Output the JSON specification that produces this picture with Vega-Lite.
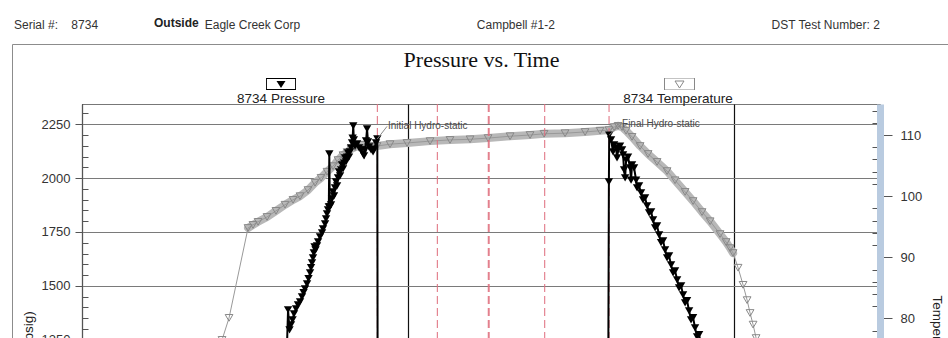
{
  "$schema": "https://vega.github.io/schema/vega-lite/v6.json",
  "width": 798,
  "height": 505,
  "autosize": {"type": "none"},
  "padding": {"left": 82, "top": 104, "right": 68, "bottom": 40},
  "title": {
    "text": "Serial #:\u00a0\u00a0\u00a0\u00a08734\u00a0\u00a0\u00a0\u00a0\u00a0\u00a0\u00a0\u00a0\u00a0\u00a0\u00a0\u00a0\u00a0\u00a0\u00a0\u00a0\u00a0\u00a0\u00a0\u00a0\u00a0\u00a0\u00a0\u00a0\u00a0\u00a0\u00a0\u00a0\u00a0\u00a0\u00a0\u00a0Eagle Creek Corp\u00a0\u00a0\u00a0\u00a0\u00a0\u00a0\u00a0\u00a0\u00a0\u00a0\u00a0\u00a0\u00a0\u00a0\u00a0\u00a0\u00a0\u00a0\u00a0\u00a0\u00a0\u00a0\u00a0\u00a0\u00a0\u00a0\u00a0\u00a0\u00a0\u00a0\u00a0\u00a0\u00a0\u00a0\u00a0\u00a0\u00a0\u00a0\u00a0\u00a0\u00a0\u00a0\u00a0\u00a0\u00a0\u00a0\u00a0\u00a0\u00a0\u00a0\u00a0\u00a0\u00a0Campbell #1-2\u00a0\u00a0\u00a0\u00a0\u00a0\u00a0\u00a0\u00a0\u00a0\u00a0\u00a0\u00a0\u00a0\u00a0\u00a0\u00a0\u00a0\u00a0\u00a0\u00a0\u00a0\u00a0\u00a0\u00a0\u00a0\u00a0\u00a0\u00a0\u00a0\u00a0\u00a0\u00a0\u00a0\u00a0\u00a0\u00a0\u00a0\u00a0\u00a0\u00a0\u00a0\u00a0\u00a0\u00a0\u00a0\u00a0\u00a0\u00a0\u00a0\u00a0\u00a0\u00a0\u00a0\u00a0\u00a0\u00a0\u00a0\u00a0\u00a0\u00a0\u00a0\u00a0\u00a0\u00a0\u00a0DST Test Number: 2",
    "subtitle": "\u200b\u00a0\u00a0\u00a0\u00a0\u00a0\u00a0\u00a0\u00a0\u00a0\u00a0\u00a0\u00a0\u00a0\u00a0\u00a0\u00a0\u00a0\u00a0\u00a0\u00a0\u00a0\u00a0\u00a0\u00a0\u00a0\u00a0\u00a0\u00a0\u00a0\u00a0\u00a0\u00a0\u00a0\u00a0\u00a0\u00a0\u00a0\u00a0\u00a0\u00a0\u00a0\u00a0Outside",
    "anchor": "start",
    "frame": "group",
    "dx": -68,
    "dy": 10,
    "offset": 20,
    "font": "Liberation Sans",
    "fontSize": 12,
    "fontWeight": "normal",
    "color": "#333333",
    "subtitleFont": "Liberation Sans",
    "subtitleFontSize": 12,
    "subtitleFontWeight": "bold",
    "subtitleColor": "#222222",
    "subtitlePadding": -14
  },
  "datasets": {
    "pressure": [
      {"t":2.454,"p":1064},{"t":2.491,"p":1157},{"t":2.515,"p":1226},{"t":2.528,"p":1389},{"t":2.546,"p":1296},{"t":2.564,"p":1319},{"t":2.583,"p":1342},{"t":2.601,"p":1370},{"t":2.626,"p":1393},{"t":2.650,"p":1412},{"t":2.675,"p":1426},{"t":2.699,"p":1449},{"t":2.718,"p":1468},{"t":2.736,"p":1486},{"t":2.761,"p":1509},{"t":2.779,"p":1533},{"t":2.798,"p":1560},{"t":2.810,"p":1584},{"t":2.822,"p":1607},{"t":2.834,"p":1630},{"t":2.844,"p":1653},{"t":2.853,"p":1681},{"t":2.865,"p":1667},{"t":2.883,"p":1686},{"t":2.896,"p":1704},{"t":2.920,"p":1727},{"t":2.945,"p":1746},{"t":2.957,"p":1764},{"t":2.982,"p":1788},{"t":2.994,"p":1811},{"t":3.006,"p":1834},{"t":3.018,"p":1853},{"t":3.028,"p":1866},{"t":3.034,"p":2112},{"t":3.040,"p":1866},{"t":3.055,"p":1876},{"t":3.067,"p":1904},{"t":3.080,"p":1936},{"t":3.092,"p":1917},{"t":3.104,"p":1955},{"t":3.117,"p":1982},{"t":3.129,"p":1964},{"t":3.141,"p":2001},{"t":3.153,"p":2029},{"t":3.166,"p":2010},{"t":3.178,"p":2038},{"t":3.190,"p":2061},{"t":3.202,"p":2043},{"t":3.215,"p":2070},{"t":3.227,"p":2094},{"t":3.239,"p":2075},{"t":3.252,"p":2098},{"t":3.264,"p":2117},{"t":3.276,"p":2098},{"t":3.288,"p":2122},{"t":3.301,"p":2140},{"t":3.313,"p":2163},{"t":3.320,"p":2186},{"t":3.328,"p":2242},{"t":3.335,"p":2177},{"t":3.350,"p":2149},{"t":3.374,"p":2159},{"t":3.399,"p":2140},{"t":3.423,"p":2131},{"t":3.448,"p":2112},{"t":3.460,"p":2103},{"t":3.472,"p":2131},{"t":3.485,"p":2173},{"t":3.497,"p":2228},{"t":3.509,"p":2168},{"t":3.521,"p":2145},{"t":3.546,"p":2131},{"t":3.571,"p":2122},{"t":3.583,"p":2135},{"t":3.607,"p":2163},{"t":3.623,"p":2182},
      {"t":3.630,"p":150},{"t":3.8,"p":190},{"t":4.0,"p":215},{"t":4.2,"p":235},{"t":4.36,"p":250},{"t":4.4,"p":600},{"t":4.5,"p":760},{"t":4.7,"p":850},{"t":4.98,"p":890},{"t":4.995,"p":270},{"t":5.2,"p":320},{"t":5.5,"p":370},{"t":5.676,"p":400},{"t":5.72,"p":700},{"t":5.9,"p":850},{"t":6.2,"p":920},{"t":6.455,"p":950},{"t":6.464,"p":1982},{"t":6.468,"p":2200},
      {"t":6.491,"p":2177},{"t":6.515,"p":2122},{"t":6.528,"p":2154},{"t":6.552,"p":2140},{"t":6.564,"p":2094},{"t":6.577,"p":2131},{"t":6.601,"p":2149},{"t":6.626,"p":2131},{"t":6.638,"p":2108},{"t":6.650,"p":2038},{"t":6.663,"p":2001},{"t":6.675,"p":2084},{"t":6.699,"p":2098},{"t":6.724,"p":2047},{"t":6.736,"p":1991},{"t":6.748,"p":2061},{"t":6.773,"p":2047},{"t":6.798,"p":1991},{"t":6.810,"p":1955},{"t":6.834,"p":1964},{"t":6.859,"p":1931},{"t":6.883,"p":1899},{"t":6.908,"p":1908},{"t":6.933,"p":1871},{"t":6.957,"p":1839},{"t":6.982,"p":1843},{"t":7.006,"p":1806},{"t":7.031,"p":1769},{"t":7.055,"p":1778},{"t":7.080,"p":1737},{"t":7.104,"p":1700},{"t":7.129,"p":1709},{"t":7.153,"p":1667},{"t":7.178,"p":1630},{"t":7.202,"p":1639},{"t":7.227,"p":1597},{"t":7.252,"p":1560},{"t":7.276,"p":1570},{"t":7.301,"p":1528},{"t":7.325,"p":1491},{"t":7.350,"p":1500},{"t":7.374,"p":1458},{"t":7.399,"p":1421},{"t":7.423,"p":1431},{"t":7.448,"p":1384},{"t":7.472,"p":1342},{"t":7.497,"p":1352},{"t":7.521,"p":1305},{"t":7.546,"p":1263},{"t":7.571,"p":1273},{"t":7.595,"p":1226},{"t":7.620,"p":1180},{"t":7.9,"p":900},{"t":8.4,"p":500},{"t":8.9,"p":100},{"t":9.0,"p":15}
    ],
    "temperature": [
      {"t":0.221,"temp":50.4},{"t":1.448,"temp":53.6},{"t":1.632,"temp":70.0},{"t":1.718,"temp":76.5},{"t":1.804,"temp":80.1},{"t":2.037,"temp":94.8},{"t":2.098,"temp":95.3},{"t":2.160,"temp":95.8},{"t":2.270,"temp":96.6},{"t":2.380,"temp":97.6},{"t":2.491,"temp":98.6},{"t":2.589,"temp":99.4},{"t":2.675,"temp":100.0},{"t":2.773,"temp":101.0},{"t":2.859,"temp":102.2},{"t":2.933,"temp":103.0},{"t":3.006,"temp":104.0},{"t":3.080,"temp":104.9},{"t":3.141,"temp":105.9},{"t":3.202,"temp":106.7},{"t":3.252,"temp":107.2},{"t":3.301,"temp":107.7},{"t":3.350,"temp":108.0},{"t":3.436,"temp":108.4},{"t":3.534,"temp":108.2},{"t":3.620,"temp":108.2},{"t":3.779,"temp":108.5},{"t":3.988,"temp":108.7},{"t":4.270,"temp":109.0},{"t":4.515,"temp":109.2},{"t":4.761,"temp":109.3},{"t":4.982,"temp":109.5},{"t":5.252,"temp":109.8},{"t":5.497,"temp":110.0},{"t":5.669,"temp":110.2},{"t":5.926,"temp":110.3},{"t":6.172,"temp":110.5},{"t":6.356,"temp":110.7},{"t":6.466,"temp":110.8},{"t":6.528,"temp":111.3},{"t":6.577,"temp":111.5},{"t":6.626,"temp":111.3},{"t":6.675,"temp":110.7},{"t":6.748,"temp":109.7},{"t":6.847,"temp":108.2},{"t":6.945,"temp":106.9},{"t":7.055,"temp":105.6},{"t":7.178,"temp":104.1},{"t":7.276,"temp":102.6},{"t":7.399,"temp":100.7},{"t":7.497,"temp":99.2},{"t":7.607,"temp":97.4},{"t":7.706,"temp":95.9},{"t":7.828,"temp":93.8},{"t":7.902,"temp":92.5},{"t":7.951,"temp":91.5},{"t":7.988,"temp":90.7},{"t":8.049,"temp":88.3},{"t":8.110,"temp":85.5},{"t":8.160,"temp":83.0},{"t":8.196,"temp":80.9},{"t":8.233,"temp":79.0},{"t":8.270,"temp":76.8},{"t":8.344,"temp":70.0},{"t":8.503,"temp":60.2},{"t":8.810,"temp":53.6},{"t":9.546,"temp":50.4}
    ],
    "events": [
      {"event":"Open To Flow (1)","t":3.624},
      {"event":"Shut-In(1)","t":4.36},
      {"event":"End Shut-In(1)","t":4.985},
      {"event":"Open To Flow (2)","t":4.995},
      {"event":"Shut-In(2)","t":5.676},
      {"event":"End Shut-In(2)","t":6.466}
    ],
    "notes": [
      {"label":"Initial Hydro-static","t0":3.623,"p0":2182,"t":3.742,"p":2240},
      {"label":"Final Hydro-static","t0":6.468,"p0":2200,"t":6.613,"p":2251}
    ]
  },
  "layer": [
    {
      "layer": [
        {
          "data": {"name": "temperature"},
          "transform": [{"filter": "datum.t >= 2.03 && datum.t <= 7.99"}],
          "mark": {"type": "line", "color": "#b8b8b8", "strokeWidth": 8, "strokeCap": "round", "strokeJoin": "round"},
          "encoding": {
            "x": {"field": "t", "type": "quantitative", "scale": {"domain": [0, 9.79], "nice": false, "zero": false},
              "axis": {"orient": "top", "title": "Pressure vs. Time", "labels": false, "ticks": false, "domain": false, "grid": false,
                "titleFont": "Liberation Serif", "titleFontSize": 22, "titleFontWeight": "normal", "titleColor": "#111111",
                "titlePadding": 38, "titleBaseline": "alphabetic"}},
            "y": {"field": "temp", "type": "quantitative", "scale": {"domain": [32.5, 115.07], "nice": false, "zero": false},
              "axis": {"orient": "right", "title": "Temperature (deg F)", "values": [34,36,38,40,42,44,46,48,50,52,54,56,58,60,62,64,66,68,70,72,74,76,78,80,82,84,86,88,90,92,94,96,98,100,102,104,106,108,110,112,114],
                "tickCount": 41,
                "format": "d", "labelExpr": "datum.value % 10 === 0 ? datum.label : ''", "labelOverlap": false,
                "labelFontSize": 13, "labelColor": "#333333", "labelPadding": 8,
                "tickSize": {"condition": {"test": "datum.value % 10 === 0", "value": 12}, "value": -8},
                "tickColor": "#555555", "domainColor": "#b9cbe0", "domainWidth": 7, "grid": false,
                "titleFontSize": 13.5, "titleFontWeight": "normal", "titleColor": "#222222", "titlePadding": 8}}
          }
        },
        {
          "data": {"name": "temperature"},
          "mark": {"type": "line", "color": "#999999", "strokeWidth": 1},
          "encoding": {
            "x": {"field": "t", "type": "quantitative", "scale": {"domain": [0, 9.79], "nice": false, "zero": false}},
            "y": {"field": "temp", "type": "quantitative"}
          }
        },
        {
          "data": {"name": "temperature"},
          "mark": {"type": "point", "shape": "triangle-down", "filled": false, "size": 60, "strokeWidth": 1, "opacity": 1},
          "encoding": {
            "x": {"field": "t", "type": "quantitative", "scale": {"domain": [0, 9.79], "nice": false, "zero": false}},
            "y": {"field": "temp", "type": "quantitative"},
            "stroke": {"datum": "8734 Temperature", "type": "nominal", "scale": {"range": ["#888888"]},
              "legend": {"orient": "none", "legendX": 541, "legendY": -26, "padding": 0,
                "title": "8734 Temperature", "titleOrient": "bottom", "titleAnchor": "middle", "titleAlign": "center", "titlePadding": 2,
                "titleFont": "Liberation Sans", "titleFontSize": 13.5, "titleFontWeight": "normal", "titleColor": "#222222",
                "symbolType": "M-1,-0.4H1V0.4H-1Z M-0.3,-0.2L0.3,-0.2L0,0.27Z",
                "symbolSize": 900, "symbolStrokeWidth": 1, "symbolStrokeColor": "#999999", "symbolFillColor": "transparent",
                "symbolOffset": 7, "clipHeight": 12, "labelExpr": "''"}}
          }
        }
      ]
    },
    {
      "layer": [
        {
          "data": {"name": "events"},
          "mark": {"type": "rule", "color": "#df6f7e", "strokeWidth": 1.2, "opacity": 0.85},
          "encoding": {
            "x": {"field": "t", "type": "quantitative", "scale": {"domain": [0, 9.79], "nice": false, "zero": false},
              "axis": {"orient": "bottom", "values": [0, 4, 8], "grid": true, "gridColor": "#111111", "gridWidth": 1.2,
                "title": null, "labels": false, "ticks": false, "domainColor": "#555555"}},
            "strokeDash": {"datum": "Events", "type": "nominal", "scale": {"range": [[8, 4]]},
              "legend": {"orient": "none", "legendX": -70, "legendY": -60, "padding": 0, "title": null,
                "symbolType": "square", "symbolSize": 864900, "symbolOpacity": 0, "labelExpr": "''",
                "strokeColor": "#8c8c8c"}}
          }
        },
        {
          "data": {"name": "pressure"},
          "mark": {"type": "line", "color": "#000000", "strokeWidth": 2},
          "encoding": {
            "x": {"field": "t", "type": "quantitative", "scale": {"domain": [0, 9.79], "nice": false, "zero": false}},
            "y": {"field": "p", "type": "quantitative", "scale": {"domain": [0, 2344], "nice": false},
              "axis": {"orient": "left", "title": "Pressure (psig)", "values": [0,50,100,150,200,250,300,350,400,450,500,550,600,650,700,750,800,850,900,950,1000,1050,1100,1150,1200,1250,1300,1350,1400,1450,1500,1550,1600,1650,1700,1750,1800,1850,1900,1950,2000,2050,2100,2150,2200,2250,2300],
                "tickCount": 47,
                "format": "d", "labelExpr": "datum.value % 250 === 0 ? datum.label : ''", "labelOverlap": false,
                "labelFontSize": 13, "labelColor": "#333333", "labelPadding": 5,
                "tickSize": {"condition": {"test": "datum.value % 250 === 0", "value": 7}, "value": -6},
                "tickColor": "#555555", "domainColor": "#555555",
                "grid": true, "gridColor": "#7a7a7a",
                "gridOpacity": {"condition": {"test": "datum.value % 250 === 0", "value": 1}, "value": 0},
                "titleFontSize": 13.5, "titleFontWeight": "normal", "titleColor": "#222222", "titlePadding": 6}}
          }
        },
        {
          "data": {"name": "pressure"},
          "mark": {"type": "point", "shape": "triangle-down", "filled": true, "size": 70, "opacity": 1},
          "encoding": {
            "x": {"field": "t", "type": "quantitative", "scale": {"domain": [0, 9.79], "nice": false, "zero": false}},
            "y": {"field": "p", "type": "quantitative"},
            "fill": {"datum": "8734 Pressure", "type": "nominal", "scale": {"range": ["#000000"]},
              "legend": {"orient": "none", "legendX": 155, "legendY": -26, "padding": 0,
                "title": "8734 Pressure", "titleOrient": "bottom", "titleAnchor": "middle", "titleAlign": "center", "titlePadding": 2,
                "titleFont": "Liberation Sans", "titleFontSize": 13.5, "titleFontWeight": "normal", "titleColor": "#222222",
                "symbolType": "M-1,-0.4H1V0.4H-1Z M-0.94,-0.33V0.33H0.94V-0.33Z M-0.3,-0.2L0.3,-0.2L0,0.27Z",
                "symbolSize": 900, "symbolStrokeWidth": 0, "symbolOffset": 5, "clipHeight": 12, "labelExpr": "''"}}
          }
        },
        {
          "data": {"name": "notes"},
          "mark": {"type": "rule", "color": "#8a8a8a", "strokeWidth": 1},
          "encoding": {
            "x": {"field": "t0", "type": "quantitative", "scale": {"domain": [0, 9.79], "nice": false, "zero": false}},
            "y": {"field": "p0", "type": "quantitative"},
            "x2": {"field": "t"},
            "y2": {"field": "p"}
          }
        },
        {
          "data": {"name": "notes"},
          "mark": {"type": "text", "align": "left", "baseline": "middle", "font": "Liberation Sans", "fontSize": 10, "color": "#4a4a4a", "dx": 1},
          "encoding": {
            "x": {"field": "t", "type": "quantitative", "scale": {"domain": [0, 9.79], "nice": false, "zero": false}},
            "y": {"field": "p", "type": "quantitative"},
            "text": {"field": "label"}
          }
        }
      ]
    }
  ],
  "resolve": {"scale": {"y": "independent"}, "axis": {"x": "independent"}},
  "config": {
    "font": "Liberation Sans",
    "view": {"stroke": "#777777"},
    "axis": {"labelFont": "Liberation Sans", "titleFont": "Liberation Sans"}
  }
}
